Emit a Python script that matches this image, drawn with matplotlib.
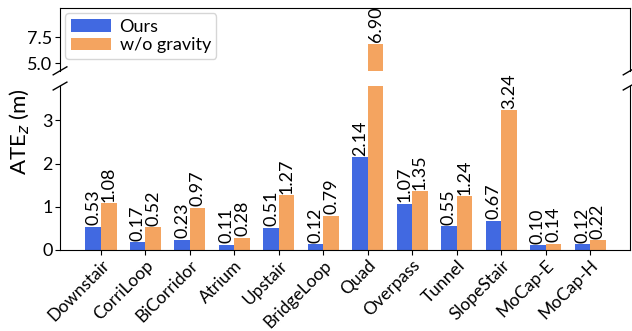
import matplotlib.pyplot as plt
import numpy as np

plt.rcParams['font.family'] = ['Lato', 'DejaVu Sans']

scenes = ['Downstair', 'CorriLoop', 'BiCorridor', 'Atrium', 'Upstair', 'BridgeLoop',
          'Quad', 'Overpass', 'Tunnel', 'SlopeStair', 'MoCap-E', 'MoCap-H']
ours = [0.53, 0.17, 0.23, 0.11, 0.51, 0.12, 2.14, 1.07, 0.55, 0.67, 0.10, 0.12]
no_gravity = [1.08, 0.52, 0.97, 0.28, 1.27, 0.79, 6.90, 1.35, 1.24, 3.24, 0.14, 0.22]

blue = '#4169E1'
orange = '#F4A460'
w = 0.35
x = np.arange(len(scenes))
fs = 13

fig = plt.figure(figsize=(6.32, 3.31), dpi=100)
ax_top = fig.add_axes([0.095, 0.786, 0.902, 0.190])
ax_bot = fig.add_axes([0.095, 0.246, 0.902, 0.494])

top_lim = (4.3, 10.3)
bot_lim = (0, 3.8)

for ax in (ax_top, ax_bot):
    ax.bar(x - w / 2, ours, w, color=blue, label='Ours')
    ax.bar(x + w / 2, no_gravity, w, color=orange, label='w/o gravity')
    ax.set_xlim(-0.92, 11.9)
    ax.tick_params(labelsize=fs, pad=2)

ax_top.set_ylim(*top_lim)
ax_bot.set_ylim(*bot_lim)
ax_top.set_yticks([5.0, 7.5])
ax_bot.set_yticks([0, 1, 2, 3])

# value labels, each placed in the panel where the bar top is visible
for vals, off in ((ours, -w / 2), (no_gravity, w / 2)):
    for i, v in enumerate(vals):
        ax = ax_top if v > bot_lim[1] else ax_bot
        ax.annotate(f'{v:.2f}', (x[i] + off, v), xytext=(0, 1), textcoords='offset points',
                    ha='center', va='bottom', rotation=90, fontsize=fs)

ax_top.spines['bottom'].set_visible(False)
ax_bot.spines['top'].set_visible(False)
ax_top.tick_params(axis='x', bottom=False, labelbottom=False)
ax_bot.set_xticks(x)
ax_bot.set_xticklabels(scenes, rotation=45, ha='right', rotation_mode='anchor', fontsize=12.5)

ax_bot.set_ylabel('ATE$_z$ (m)', fontsize=16)
ax_bot.yaxis.set_label_coords(-0.05, 0.72)

ax_top.legend(loc='upper left', fontsize=fs, handlelength=2.2, borderaxespad=0.3,
              labelspacing=0.15, handletextpad=0.5, borderpad=0.3)

# diagonal break marks on both vertical spines
d = 0.012
kw = dict(color='k', clip_on=False, lw=1)
ax_top.plot((-d, +d), (-d * 5.3, +d * 5.3), transform=ax_top.transAxes, **kw)
ax_top.plot((1 - d, 1 + d), (-d * 5.3, +d * 5.3), transform=ax_top.transAxes, **kw)
ax_bot.plot((-d, +d), (1 - d * 2, 1 + d * 2), transform=ax_bot.transAxes, **kw)
ax_bot.plot((1 - d, 1 + d), (1 - d * 2, 1 + d * 2), transform=ax_bot.transAxes, **kw)

fig.savefig('out.png', dpi=100)
